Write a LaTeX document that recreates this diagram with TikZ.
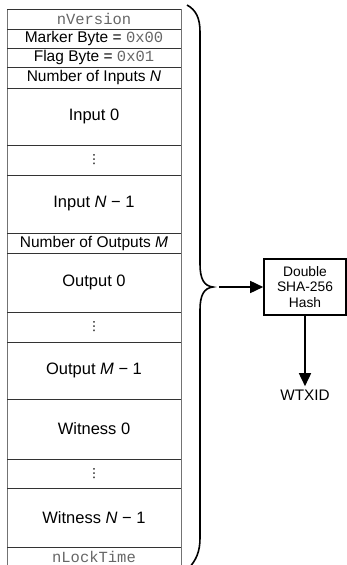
\documentclass[tikz,border=0pt]{standalone}
\usepackage{fontspec}
\setmainfont{Liberation Sans}
\setmonofont{Liberation Mono}
\newfontfamily\symfont{DejaVu Sans}
\usetikzlibrary{arrows.meta}
\begin{document}
\begin{tikzpicture}[x=1pt,y=-1pt,
  rule/.style={draw=black!80,line width=0.8pt},
  side/.style={draw=black!55,line width=0.9pt},
  label/.style={inner sep=0pt,font=\fontsize{15.5}{18}\selectfont},
  biglabel/.style={inner sep=0pt,font=\fontsize{16.5}{18}\selectfont},
  dotsrow/.style={inner sep=0pt,font=\symfont\fontsize{12.5}{14}\selectfont},
  bigarrow/.style={line width=1.6pt,-{Triangle[length=13pt,width=12pt]}},
  hashbox/.style={draw,line width=1.6pt,minimum width=82pt,minimum height=56pt,
    inner sep=1pt,align=center,font=\fontsize{13.8}{15.5}\selectfont}]
\useasboundingbox (0,0) rectangle (347,565);
\newcommand{\hx}[1]{{\ttfamily\color{black!60}#1}}
% transaction table: frame and row separators
\draw[side] (7,570) -- (7,9);
\draw[side] (181,9) -- (181,570);
\foreach \y in {9,29,48,67,88,145,175,233,253,312,342,399,459,488,547}
  \draw[rule] (7,\y) -- (181,\y);
% field labels, top to bottom
\node[label] (ver) at (94,19) {\hx{nVersion}};
\node[label] (mark) at (94,38.5) {Marker Byte = \hx{0x00}};
\node[label] (flag) at (94,57.5) {Flag Byte = \hx{0x01}};
\node[label] (nin) at (94,77.5) {Number of Inputs \textit{N}};
\node[biglabel] (in0) at (94,116.5) {Input 0};
\node[dotsrow] (indots) at (94,160) {⋮};
\node[biglabel] (inN) at (94,204) {Input \textit{N} − 1};
\node[label] (nout) at (94,243) {Number of Outputs \textit{M}};
\node[biglabel] (out0) at (94,282.5) {Output 0};
\node[dotsrow] (outdots) at (94,327) {⋮};
\node[biglabel] (outM) at (94,370.5) {Output \textit{M} − 1};
\node[biglabel] (wit0) at (94,429) {Witness 0};
\node[dotsrow] (witdots) at (94,473.5) {⋮};
\node[biglabel] (witN) at (94,517.5) {Witness \textit{N} − 1};
\node[label] (lock) at (94,557) {\hx{nLockTime}};
% brace gathering all fields
\coordinate (tip) at (213,287);
\draw[line width=1.6pt]
  (187,5) .. controls (196,10) and (200,18) .. (200,32)
  -- (200,264) .. controls (200,279) and (204,286) .. (tip)
  .. controls (204,288) and (200,295) .. (200,310)
  -- (200,538) .. controls (200,552) and (196,560) .. (189,568);
% hashing step
\node[hashbox] (hash) at (305,287) {Double\\SHA-256\\Hash};
\node[font=\fontsize{15.3}{18}\selectfont] (wtxid) at (305,395) {WTXID};
\draw[bigarrow] ([xshift=6pt]tip) -- (hash.west);
\draw[bigarrow] (hash.south) -- (wtxid.north);
\end{tikzpicture}
\end{document}
